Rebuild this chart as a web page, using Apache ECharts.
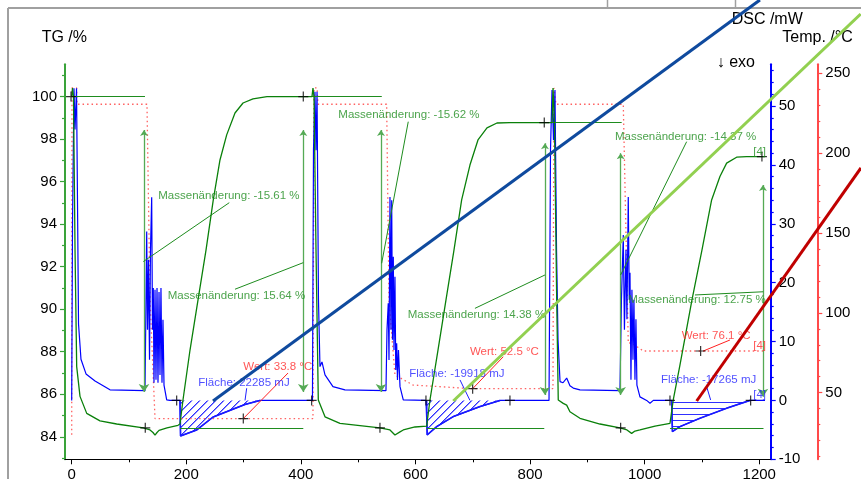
<!DOCTYPE html>
<html><head><meta charset="utf-8">
<script src="https://cdn.jsdelivr.net/npm/echarts@6/dist/echarts.min.js"></script>
<style>html,body{margin:0;padding:0;background:#fff}#c{width:861px;height:479px}</style>
</head><body><div id="c"></div>
<script>
const FF = 'Liberation Sans, Arial, sans-serif';

const xTicks = [0,200,400,600,800,1000,1200];
const xMinorTicks = [100,300,500,700,900,1100];
const tgTicks = [84,86,88,90,92,94,96,98,100];
const tgMinorTicks = [83,85,87,89,91,93,95,97,99,101];
const dscTicks = [-10,0,10,20,30,40,50];
const dscMinorTicks = [-8,-6,-4,-2,2,4,6,8,12,14,16,18,22,24,26,28,32,34,36,38,42,44,46,48,52,54,56];
const tempTicks = [50,100,150,200,250];
const tempMinorTicks = [10,20,30,40,60,70,80,90,110,120,130,140,160,170,180,190,210,220,230,240];

const tgCurve = [[0,100.0],[1.4,100.4],[3.1,100.0],[5.8,92.8],[8.7,87.3],[14.5,85.9],[26.2,85.1],[49.4,84.75],[78.5,84.6],[125.0,84.42],[136.7,84.32],[141.9,84.2],[145.4,84.08],[148.9,84.2],[152.4,84.3],[166.3,84.42],[185.5,84.54],[189.0,84.6],[194.2,85.73],[206.5,88.08],[220.4,90.43],[234.4,92.78],[247.1,95.14],[258.8,97.02],[270.5,98.2],[285.0,99.23],[299.0,99.7],[316.4,99.89],[340.8,100.0],[419.4,100.0],[421.1,100.4],[422.9,100.0],[426.4,92.78],[430.4,85.73],[442.1,84.94],[468.2,84.63],[538.0,84.42],[555.5,84.32],[564.2,84.08],[573.0,84.23],[578.7,84.32],[599.1,84.46],[619.5,84.5],[625.3,85.73],[639.3,88.08],[653.2,90.43],[667.2,92.78],[680.6,95.14],[695.1,96.78],[709.1,97.96],[724.8,98.53],[742.2,98.76],[765.0,98.78],[838.3,98.78],[840.1,100.4],[842.6,98.78],[846.5,90.43],[849.2,85.73],[857.9,85.57],[863.9,85.49],[869.6,85.18],[887.1,84.87],[922.0,84.6],[956.9,84.42],[969.1,84.32],[977.3,84.16],[983.1,84.27],[991.8,84.32],[1018.1,84.5],[1044.2,84.63],[1049.9,85.73],[1061.6,87.37],[1082.5,90.43],[1100.0,92.78],[1116.9,95.14],[1131.4,96.24],[1143.1,96.87],[1160.5,97.15],[1178.0,97.18],[1210.0,97.18]];

const dscCurve = [[0,0],[1.4,30],[4.0,53],[5.8,46],[8.4,53],[10.1,34],[11.9,13],[16.2,7],[25.0,4.5],[40.7,3.3],[66.8,1.8],[127.9,1.66],[129.7,17.1],[130.9,28.7],[132.3,12.0],[134.0,23.9],[135.8,6.9],[137.5,25.6],[139.6,34.5],[141.0,12.0],[142.4,19.1],[143.6,3.0],[145.4,18.8],[147.1,3.5],[148.9,19.1],[150.6,3.0],[152.4,18.4],[154.1,4.3],[155.8,19.1],[157.6,3.0],[159.3,13.7],[161.1,2.6],[165.8,0.1],[171.5,0],[189.0,0],[190.0,-6.03],[192.0,-6.03],[218.2,-5.01],[247.1,-2.8],[302.5,-0.68],[328.6,0],[420.2,0],[422.0,42.5],[424.6,52.4],[426.4,42.5],[428.2,52.4],[430.7,17.1],[433.3,5.74],[436.8,6.54],[442.1,4.33],[456.0,2.34],[476.9,1.78],[548.5,1.66],[550.3,12.0],[552.5,16.5],[553.8,6.88],[555.5,34.55],[557.2,12.0],[558.5,34.0],[559.9,10.3],[561.3,24.4],[562.5,8.57],[564.2,21.0],[565.6,5.18],[567.2,9.72],[568.6,3.48],[570.3,8.57],[573.0,2.34],[578.7,0.08],[618.3,0],[619.5,0],[620.5,-5.86],[622.3,-5.86],[637.0,-4.45],[666.0,-2.75],[712.6,-1.05],[747.6,0],[833.1,0],[835.7,42.6],[838.3,52.7],[840.9,44.2],[843.5,52.7],[846.2,25.6],[848.8,10.3],[852.3,3.2],[857.5,3.0],[863.9,3.8],[869.6,2.5],[875.4,2.1],[887.1,1.8],[956.9,1.66],[959.5,17.1],[962.7,28.1],[964.7,12.0],[967.4,25.6],[969.1,13.8],[971.4,34.55],[973.1,17.1],[974.4,21.7],[976.1,3.5],[977.8,18.8],[979.6,6.9],[981.3,17.1],[983.1,3.5],[984.8,13.8],[986.5,2.6],[991.8,0.6],[1003.5,0],[1009.3,-0.48],[1015.1,0],[1047.1,0],[1048.5,-5.3],[1049.9,-5.3],[1061.6,-4.45],[1096.5,-3.02],[1143.1,-1.32],[1183.8,0],[1210,0]];

const dscPeak1 = [[189.0,0],[190.0,-6.03],[192.0,-6.03],[218.2,-5.01],[247.1,-2.8],[302.5,-0.68],[328.6,0]];
const dscPeak2 = [[619.5,0],[620.5,-5.86],[622.3,-5.86],[637.0,-4.45],[666.0,-2.75],[712.6,-1.05],[747.6,0]];
const dscPeak3 = [[1047.1,0],[1048.5,-5.3],[1049.9,-5.3],[1061.6,-4.45],[1096.5,-3.02],[1143.1,-1.32],[1183.8,0]];

const tempDotted = [[0,23.6],[0.5,240.8],[8.7,240.8],[9.2,230.6],[131.4,230.6],[136.7,108.1],[145.4,33.8],[421.1,33.8],[422.9,240.8],[428.2,240.8],[429.9,230.6],[549.7,230.6],[553.8,108.1],[564.2,61.1],[595.6,54.8],[699.8,52.5],[840.0,52.5],[841.7,240.8],[845.2,230.6],[962.7,230.6],[971.4,81.1],[977.3,81.1],[997.6,76.1],[1206.5,76.1]];

const tempRamp1 = [[246.6,44.8],[1201.2,295.9]];
const tempRamp2 = [[666.0,44.8],[1377.0,287.1]];
const tempRamp3 = [[1090.8,44.8],[1377.5,190.7]];

const tgRefLines = [[[0,100],[127.9,100]],[[189.0,84.42],[404.2,84.42]],[[340.8,100],[541.2,100]],[[619.5,84.42],[824.8,84.42]],[[824.8,98.78],[959.9,98.78]],[[1044.2,84.42],[1207.4,84.42]]];
const tgArrows = [[[126.2,98.43],[126.2,86.1]],[[404.2,98.43],[404.2,86.1]],[[539.8,98.43],[539.8,86.1]],[[826.0,97.81],[826.0,85.96]],[[958.1,97.34],[958.1,85.96]],[[1206.5,95.84],[1206.5,85.88]]];
const tgLeaders = [[[125.0,92.24],[275.0,95.01]],[[285.0,90.94],[404.2,92.19]],[[587.4,98.82],[541.0,92.16]],[[703.8,90.04],[826.0,91.61]],[[1073.3,97.88],[958.1,91.61]],[[1087.8,90.67],[1207.0,90.82]]];
const tempLeaders = [[[299.5,33.8],[377.5,62.3]],[[699.8,52.5],[753.2,72.5]],[[1102.3,76.1],[1148.9,83.0]]];
const dscLeaders = [[[305.4,2.07],[302.5,0]],[[677.7,3.48],[695.1,0]],[[1108.2,2.34],[1115.2,0.08]]];

const tgMarks = [[-1.2,100],[128.4,84.42],[404.2,100],[538.0,84.42],[824.8,98.78],[958.1,84.42],[1204.7,97.18]];
const dscMarks = [[183.2,0],[418.8,0],[618.3,0],[764.9,0],[1044.2,0],[1185.0,0]];
const tempMarks = [[299.5,33.8],[699.8,52.5],[1097.7,76.1]];

const tgLabels = [[151.1,95.33,'Massenänderung: -15.61 %'],[167.5,90.62,'Massenänderung: 15.64 %'],[465.3,99.14,'Massenänderung: -15.62 %'],[586.4,89.73,'Massenänderung: 14.38 %'],[948.2,98.12,'Massenänderung: -14.37 %'],[971.4,90.43,'Massenänderung: 12.75 %'],[1189.5,97.4,'[4]']];
const tempLabels = [[299.5,66.3,'Wert: 33.8 °C'],[695.1,75.7,'Wert: 52.5 °C'],[1064.6,85.5,'Wert: 76.1 °C'],[1189.5,79.4,'[4]']];
const dscLabels = [[220.9,3.02,'Fläche: 22285 mJ'],[589.2,4.50,'Fläche: -19918 mJ'],[1028.5,3.48,'Fläche: -17265 mJ'],[1189.5,0.93,'[4]']];

function hatch(kind){
  const c = document.createElement('canvas');
  if (kind === 'diag') { c.width = 8; c.height = 8; } else { c.width = 4; c.height = 6; }
  const g = c.getContext('2d');
  g.fillStyle = '#3030ff';
  if (kind === 'diag') {
    for (let i = 0; i < 8; i++) { g.fillRect(i, 7 - i, 1, 1); }
    g.fillStyle = 'rgba(48,48,255,0.55)';
    for (let i = 0; i < 8; i++) { g.fillRect((i + 1) % 8, 7 - i, 1, 1); }
  } else {
    g.fillRect(0, 0, 4, 1);
  }
  return c;
}
const hatchDiag = hatch('diag');
const hatchHor = hatch('hor');

const XMIN = -11.7, XMAX = 1220;
const TGMIN = 82.94, TGMAX = 101.52;
const DMIN = -10, DMAX = 57.08;
const TMIN = 8.3, TMAX = 255.6;

function xAx(ticks, labels, len){
  return {type:'value', min:XMIN, max:XMAX, position:'bottom',
    axisLine:{show:labels, onZero:false, lineStyle:{color:'#000', width:1.2}},
    axisTick:{show:true, customValues:ticks, length:len, inside:false, lineStyle:{color:'#000'}},
    axisLabel:{show:labels, customValues:ticks, color:'#000', fontSize:15, fontFamily:FF, margin:8, formatter: v => String(v)},
    splitLine:{show:false}};
}
function yAx(min,max,pos,offset,color,ticks,labels,len){
  return {type:'value', min, max, position:pos, offset,
    axisLine:{show:labels, onZero:false, lineStyle:{color, width:2}},
    axisTick:{show:true, customValues:ticks, length:len, inside:false, lineStyle:{color, width:1.2}},
    axisLabel:{show:labels, customValues:ticks, color:'#000', fontSize:15, fontFamily:FF, margin:8, formatter: v => String(v)},
    splitLine:{show:false}};
}
function segs(segList, yIdx, color, width, symbol, z){
  return {type:'lines', coordinateSystem:'cartesian2d', xAxisIndex:0, yAxisIndex:yIdx, polyline:false, silent:true,
    symbol: symbol || ['none','none'], symbolSize: [6,8], z: z||3,
    lineStyle:{color, width, opacity:1, curveness:0},
    data: segList.map(s => ({coords: s}))};
}
function labels(items, yIdx, color, size){
  return {type:'scatter', xAxisIndex:0, yAxisIndex:yIdx, symbolSize:0, silent:true, z:6,
    label:{show:true, position:'right', distance:0, formatter:'{b}', color, fontSize:size, fontFamily:FF},
    data: items.map(d => ({name:d[2], value:[d[0], d[1]]}))};
}
function marks(pts, yIdx){
  return {type:'scatter', xAxisIndex:0, yAxisIndex:yIdx, silent:true, z:6,
    symbol:'path://M0,5L10,5M5,0L5,10', symbolSize:10,
    itemStyle:{color:'none', borderColor:'#000', borderWidth:1.2},
    data: pts};
}
function curve(data, yIdx, color, width, extra){
  return Object.assign({type:'line', xAxisIndex:0, yAxisIndex:yIdx, data, showSymbol:false, symbol:'none', silent:true,
    lineStyle:{color, width}}, extra||{});
}
function ramp(pts, color){
  return {type:'custom', xAxisIndex:0, yAxisIndex:2, silent:true, z:8, clip:false,
    data:[[pts[0][0], pts[0][1], pts[1][0], pts[1][1]]],
    encode:{x:[0,2], y:[1,3]},
    renderItem:(params, api) => {
      const a = api.coord([api.value(0), api.value(1)]);
      const b = api.coord([api.value(2), api.value(3)]);
      return {type:'line', shape:{x1:a[0], y1:a[1], x2:b[0], y2:b[1]}, style:{stroke:color, lineWidth:3, lineCap:'butt'}};
    }};
}

const chart = echarts.init(document.getElementById('c'), null, {renderer:'canvas'});
chart.setOption({
  animation:false,
  backgroundColor:'#fff',
  grid:{left:65, right:90.3, top:64.3, bottom:19.7, containLabel:false, outerBoundsMode:'none'},
  xAxis:[xAx(xTicks,true,5), xAx(xMinorTicks,false,3)],
  yAxis:[
    yAx(TGMIN,TGMAX,'left',0,'#3aa33a',tgTicks,true,5),
    yAx(DMIN,DMAX,'right',0,'#0000ff',dscTicks,true,5),
    yAx(TMIN,TMAX,'right',46.6,'#ff4a4a',tempTicks,true,5),
    yAx(TGMIN,TGMAX,'left',0,'#3aa33a',tgMinorTicks,false,3),
    yAx(DMIN,DMAX,'right',0,'#0000ff',dscMinorTicks,false,3),
    yAx(TMIN,TMAX,'right',46.6,'#ff4a4a',tempMinorTicks,false,3)
  ],
  graphic:[
    {type:'line', shape:{x1:8,y1:8,x2:861,y2:8}, style:{stroke:'#a0a0a0', lineWidth:2}},
    {type:'line', shape:{x1:8,y1:8,x2:8,y2:479}, style:{stroke:'#a0a0a0', lineWidth:2}},
    {type:'line', shape:{x1:607.5,y1:0,x2:607.5,y2:8}, style:{stroke:'#a0a0a0', lineWidth:1.5}},
    {type:'line', shape:{x1:735.5,y1:0,x2:735.5,y2:8}, style:{stroke:'#a0a0a0', lineWidth:1.5}},
    {type:'text', x:688, y:5, style:{text:'250', font:'22px '+FF, fill:'#555', textAlign:'center', textVerticalAlign:'bottom'}},
    {type:'text', x:41.7, y:38, style:{text:'TG /%', font:'16px '+FF, fill:'#000', textAlign:'left', textVerticalAlign:'middle'}},
    {type:'text', x:731.7, y:20, style:{text:'DSC /mW', font:'16px '+FF, fill:'#000', textAlign:'left', textVerticalAlign:'middle'}},
    {type:'text', x:782.3, y:37.5, style:{text:'Temp. /°C', font:'16px '+FF, fill:'#000', textAlign:'left', textVerticalAlign:'middle'}},
    {type:'text', x:716.7, y:63, style:{text:'↓ exo', font:'16px '+FF, fill:'#000', textAlign:'left', textVerticalAlign:'middle'}}
  ],
  series:[
    curve(tempDotted, 2, '#ff6060', 1.3, {lineStyle:{color:'#ff6060', width:1.3, type:[1.5,3]}, z:2}),
    curve(dscCurve, 1, '#0000ff', 1.2, {z:2}),
    curve(dscPeak1, 1, '#1a1aff', 1.6, {z:2, areaStyle:{color:{image:hatchDiag, repeat:'repeat'}, opacity:1}}),
    curve(dscPeak2, 1, '#1a1aff', 1.6, {z:2, areaStyle:{color:{image:hatchDiag, repeat:'repeat'}, opacity:1}}),
    curve(dscPeak3, 1, '#1a1aff', 1.6, {z:2, areaStyle:{color:{image:hatchHor, repeat:'repeat'}, opacity:1}}),
    curve(tgCurve, 0, '#0a800a', 1.3, {z:3}),
    segs(tgRefLines, 0, '#1e8c1e', 1.1),
    segs(tgArrows, 0, '#55aa55', 1.3, ['arrow','arrow']),
    segs(tgLeaders, 0, '#1e8c1e', 1),
    segs(tempLeaders, 2, '#ff2020', 1),
    segs(dscLeaders, 1, '#2020ff', 1),
    marks(tgMarks, 0), marks(dscMarks, 1), marks(tempMarks, 2),
    labels(tgLabels, 0, '#1e8c1e', 11.5),
    labels(tempLabels, 2, '#ff2a2a', 11.5),
    labels(dscLabels, 1, '#2424ff', 11.5),
    ramp(tempRamp1, '#0f4a9e'),
    ramp(tempRamp2, '#92d050'),
    ramp(tempRamp3, '#c00000')
  ]
});
</script></body></html>
